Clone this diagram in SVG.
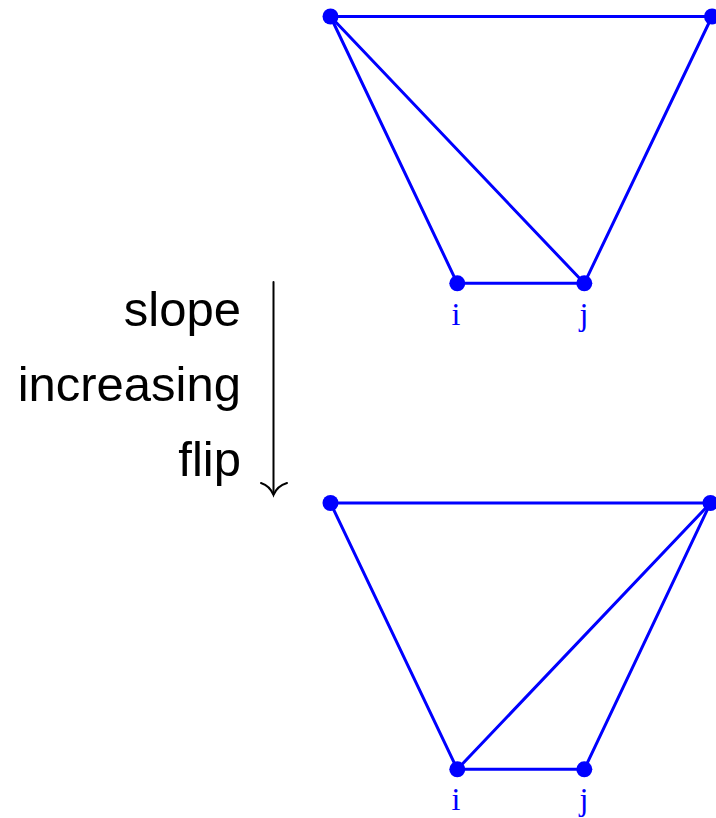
<svg xmlns="http://www.w3.org/2000/svg" width="716" height="818" viewBox="0 0 716 818">
<style>
.e{stroke:#0000ff;stroke-width:3;fill:none;stroke-linecap:round}
.n{fill:#0000ff}
.lab{font-family:"Liberation Serif",serif;font-size:32px;fill:#0000ff;text-anchor:middle}
.t{font-family:"Liberation Sans",Arial,sans-serif;font-size:49px;fill:#000;text-anchor:end}
</style>
<rect width="716" height="818" fill="#fff"/>
<g id="connectors">
<line class="e" x1="330.5" y1="16.5" x2="712" y2="16.5"/>
<line class="e" x1="330.5" y1="16.5" x2="457.3" y2="283.3"/>
<line class="e" x1="330.5" y1="16.5" x2="584.3" y2="283.3"/>
<line class="e" x1="457.3" y1="283.3" x2="584.3" y2="283.3"/>
<line class="e" x1="584.3" y1="283.3" x2="712" y2="16.5"/>
<line class="e" x1="330.5" y1="503" x2="710.5" y2="503"/>
<line class="e" x1="330.5" y1="503" x2="457.3" y2="769.3"/>
<line class="e" x1="457.3" y1="769.3" x2="584.3" y2="769.3"/>
<line class="e" x1="584.3" y1="769.3" x2="710.5" y2="503"/>
<line class="e" x1="457.3" y1="769.3" x2="710.5" y2="503"/>
<g id="flip-arrow" stroke="#000" stroke-width="2" fill="none" stroke-linecap="round">
<line x1="273.5" y1="282" x2="273.5" y2="494"/>
<path d="M261 483 Q270 486 273.5 495 Q277 486 287 483"/>
</g>
</g>
<g id="top-a"><circle class="n" cx="330.5" cy="16.5" r="8"/></g>
<g id="top-b"><circle class="n" cx="712" cy="16.5" r="8"/></g>
<g id="top-i"><circle class="n" cx="457.3" cy="283.3" r="8"/><text class="lab" x="456" y="325">i</text></g>
<g id="top-j"><circle class="n" cx="584.3" cy="283.3" r="8"/><text class="lab" x="584" y="325">j</text></g>
<g id="bot-a"><circle class="n" cx="330.5" cy="503" r="8"/></g>
<g id="bot-b"><circle class="n" cx="710.5" cy="503" r="8"/></g>
<g id="bot-i"><circle class="n" cx="457.3" cy="769.3" r="8"/><text class="lab" x="456" y="810">i</text></g>
<g id="bot-j"><circle class="n" cx="584.3" cy="769.3" r="8"/><text class="lab" x="584" y="810">j</text></g>
<g id="label">
<text class="t" x="241" y="326">slope</text>
<text class="t" x="241" y="401">increasing</text>
<text class="t" x="241" y="476">flip</text>
</g>
</svg>
